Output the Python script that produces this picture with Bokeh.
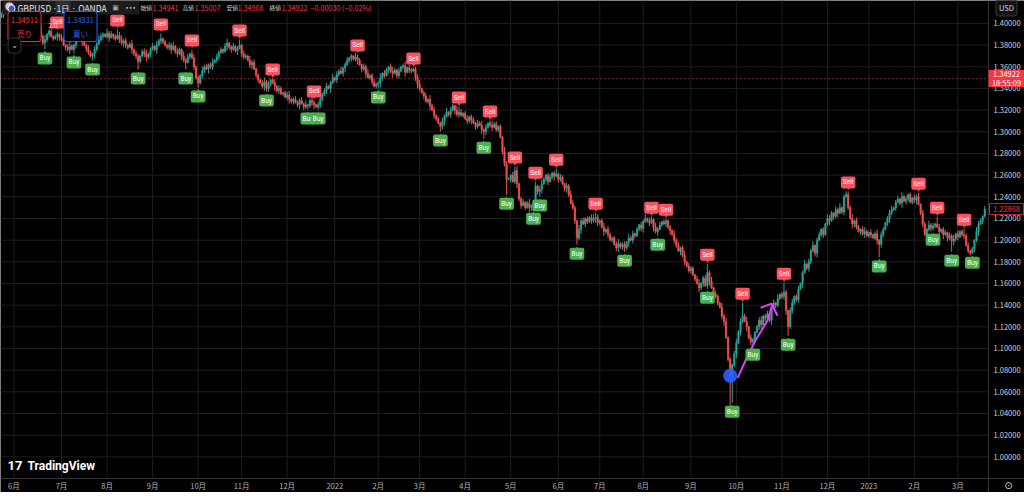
from bokeh.plotting import figure
from bokeh.models import ColumnDataSource, Label
from bokeh.core.properties import value
from bokeh.embed import file_html
from bokeh.resources import INLINE

# daily closes of GBPUSD in pips (1.xxxx * 10000)
closes = [
    14080, 14120, 14150, 14110, 14140, 14170, 14130, 14100, 14140, 14110,
    14090, 14120, 14150, 14100, 14060, 14090, 14030, 14000,
    13960, 13880, 13820, 13850,
    13900, 13930, 13880, 13860, 13880, 13900, 13870, 13850, 13800,
    13780, 13760, 13790, 13760, 13800,
    13840, 13880, 13860, 13830, 13800, 13770,
    13730, 13700, 13720,
    13760, 13810, 13850, 13880, 13900, 13880,
    13910, 13870, 13900, 13880, 13860, 13890,
    13850, 13820, 13840, 13800, 13780, 13810, 13760, 13720, 13700,
    13650,
    13700, 13740, 13720, 13690, 13720,
    13760, 13790, 13760, 13800, 13840, 13860, 13830, 13800,
    13780, 13800, 13760, 13790, 13740, 13720, 13760, 13700, 13660,
    13640,
    13690, 13720, 13680,
    13600, 13500, 13450,
    13520, 13560, 13600, 13580, 13620, 13600, 13640, 13660,
    13690, 13730, 13760, 13740, 13790, 13820,
    13780, 13760, 13790, 13750, 13770, 13800,
    13720, 13690, 13700, 13660, 13620, 13640, 13580, 13520, 13480,
    13450, 13420, 13460, 13400, 13440, 13480, 13450,
    13420, 13380, 13400, 13350, 13360, 13320, 13340, 13300, 13280,
    13300, 13270, 13250, 13290, 13260, 13230, 13250, 13240,
    13290, 13270, 13250, 13230, 13250,
    13300, 13350, 13380, 13420, 13400, 13450, 13500, 13480, 13530, 13560, 13540, 13590, 13620, 13660,
    13680, 13700, 13670, 13690, 13660,
    13620, 13580, 13600, 13540, 13500, 13520, 13460, 13420,
    13440, 13450,
    13500, 13540, 13520, 13570, 13600, 13560,
    13540, 13570, 13520, 13560, 13600, 13610, 13550, 13590, 13570, 13560,
    13580,
    13500, 13440, 13400, 13360, 13330,
    13280, 13300, 13240, 13200, 13150, 13120, 13080,
    13050,
    13100,
    13140, 13180, 13160, 13200, 13240,
    13200, 13160, 13180,
    13150, 13170, 13120, 13100, 13140, 13110, 13080, 13050, 13080, 13060, 13020, 13000,
    13040, 13080, 13060, 13040, 13070, 13020, 13050,
    12950, 12820, 12700, 12560,
    12560, 12600, 12540, 12640, 12520,
    12380, 12320, 12350, 12300, 12340, 12300, 12320,
    12340, 12500, 12450, 12470, 12520, 12560,
    12600, 12540, 12580, 12620, 12590, 12610, 12560, 12580, 12520,
    12480, 12500, 12420, 12340, 12300,
    12180, 12020,
    12100, 12180, 12150, 12200, 12170, 12210, 12180, 12200,
    12210,
    12160, 12180, 12120, 12080, 12100, 12050, 12000, 12020, 11960, 11930,
    11970, 11940, 11960, 11930,
    11980, 12020, 12000, 12060, 12040, 12100, 12140, 12110, 12170, 12200,
    12180, 12160, 12190,
    12120, 12080, 12100,
    12140, 12170, 12150, 12180,
    12120, 12090, 12050, 12000, 11950, 11900, 11930, 11860,
    11800, 11760, 11720, 11740, 11680, 11640, 11600, 11560,
    11600, 11650, 11580, 11700, 11620,
    11560, 11500, 11480, 11420, 11380, 11300,
    11250, 11100, 10900,
    10750,
    10850, 10950, 11050, 11150, 11250, 11300,
    11250, 11200, 11100, 11060, 11080,
    11150, 11200, 11260, 11220, 11300, 11280, 11320, 11260,
    11380, 11420, 11400, 11460, 11500, 11480, 11520,
    11350, 11200,
    11350, 11420, 11480, 11450, 11550, 11600, 11700, 11780, 11740, 11800, 11900, 11950, 11880, 12000, 12050,
    12100, 12050, 12150, 12200, 12180, 12250, 12220,
    12280, 12250, 12300, 12260, 12400, 12420, 12300,
    12200, 12150, 12180, 12120, 12080, 12100,
    12060, 12080, 12040, 12070, 12050, 12020, 12060, 12000,
    11960,
    12050, 12100, 12160, 12200, 12250, 12280, 12300, 12350,
    12380, 12340, 12400, 12360, 12380, 12420, 12350, 12390, 12370, 12400,
    12330,
    12250, 12150, 12050,
    12100, 12140, 12110, 12130, 12150, 12120,
    12080, 12100, 12050, 12070, 12020, 12040, 11990, 12010, 12060, 12030,
    12080, 12050, 12040,
    11950, 11900, 11880, 11920,
    12000, 12080, 12150, 12180, 12220, 12287,
]
first_open = 14060

# wick lengths per bar, one digit per bar, in units of 10 pips
up_wicks = (
    "213241312423121432132412312413213421231241321324"
    "321423121342312413212341231423121324132142312312"
    "142312413221341231241321423121342312413212341232"
    "231412321341231241324123121432132412312413213421"
    "312413212341231423121324132142312312213241312423"
    "121432132412312413213421231241321324321423121342"
    "312413212341231423121324132142312312142312413221"
    "341231241321423121342312413212341232231412321341"
    "231241324123121432132412312413213421312413212341"
    "231423121324132142312312213241312423121432132412"
    "312413213421231241321324321423121342312413212341"
)
down_wicks = (
    "132142312312213241312423121432132412312413213421"
    "231241321324321423121342312413212341231423121324"
    "132142312312142312413221341231241321423121342312"
    "413212341232231412321341231241324123121432132412"
    "312413213421312413212341231423121324132142312312"
    "213241312423121432132412312413213421231241321324"
    "321423121342312413212341231423121324132142312312"
    "142312413221341231241321423121342312413212341232"
    "231412321341231241324123121432132412312413213421"
    "312413212341231423121324132142312312213241312423"
    "121432132412312413213421231241321324321423121342"
)
deep_low_bar = 352
deep_low = 10370

# signal labels: bar index and price (pips) of the label tip
sell_bars = [27, 56, 77, 92, 115, 131, 151, 172, 199, 221, 236, 248, 258, 268, 287, 314, 321, 341, 358, 378, 409, 443, 452, 465]
sell_px = [13926, 13945, 13908, 13760, 13852, 13492, 13289, 13714, 13593, 13233, 13104, 12679, 12540, 12660, 12254, 12217, 12198, 11782, 11422, 11607, 12450, 12438, 12217, 12106]
buy_bars = [21, 35, 44, 66, 89, 95, 128, 148, 153, 182, 212, 233, 244, 257, 260, 278, 301, 317, 341, 353, 363, 380, 424, 450, 459, 469]
buy_px = [13760, 13723, 13658, 13575, 13575, 13409, 13372, 13205, 13205, 13400, 13002, 12937, 12420, 12281, 12402, 11958, 11893, 12041, 11551, 10500, 11025, 11117, 11840, 12087, 11893, 11875]

# time axis
month_bars = [6, 29, 51, 73, 95, 116, 138, 161, 182, 202, 224, 246, 269, 289, 310, 333, 355, 377, 399, 419, 441, 462]
month_names = ["6月", "7月", "8月", "9月", "10月", "11月", "12月", "2022", "2月", "3月", "4月", "5月",
               "6月", "7月", "8月", "9月", "10月", "11月", "12月", "2023", "2月", "3月"]
price_ticks = [1.00, 1.02, 1.04, 1.06, 1.08, 1.10, 1.12, 1.14, 1.16, 1.18, 1.20,
               1.22, 1.24, 1.26, 1.28, 1.30, 1.32, 1.34, 1.36, 1.38, 1.40]

# legend values
ohlc_names = ["始値", "高値", "安値", "終値"]
ohlc_values = ["1.34941", "1.35007", "1.34908", "1.34922"]
change_text = "−0.00030 (−0.02%)"
last_price = 1.34922
prev_close = 1.22868
bid, ask = "1.34911", "1.34931"

# hand drawings on the chart
dot_bar = 352
dot_px = 1.0748
arc_x = [355.6, 360.9, 365.0, 370.0, 372.5]
arc_y = [1.0729, 1.0951, 1.1100, 1.1256, 1.1413]
hook_x = [366.7, 372.0, 374.9]
hook_y = [1.1376, 1.1413, 1.1302]

n = len(closes)
c = [v / 10000 for v in closes]
o = [first_open / 10000] + c[:-1]
hi = [max(o[i], c[i]) + int(up_wicks[i]) * 0.001 for i in range(n)]
lo = [min(o[i], c[i]) - int(down_wicks[i]) * 0.001 for i in range(n)]
for b, v in zip(sell_bars, sell_px):
    hi[b] = max(v / 10000, o[b], c[b])
for b, v in zip(buy_bars, buy_px):
    lo[b] = min(v / 10000, o[b], c[b])
lo[deep_low_bar] = deep_low / 10000

UP, DOWN = "#26a69a", "#ef5350"
src = ColumnDataSource(dict(
    x=list(range(n)), o=o, c=c, hi=hi, lo=lo,
    top=[max(a, b) for a, b in zip(o, c)],
    bot=[min(a, b) for a, b in zip(o, c)],
    color=[UP if cc >= oo else DOWN for oo, cc in zip(o, c)],
))

# page layout: chart pane 988 x 478 px, price scale 36 px, time scale 14 px
W, H = 1024, 492
PANE_W, PANE_H = 988, 478
X0, XR = -0.48, 476.8          # bars shown across the chart pane
Y1, YB = 1.4212, 0.980         # prices at top / bottom of the chart pane
bpp = (XR - X0) / PANE_W       # bars per pixel
ppp = (Y1 - YB) / PANE_H       # price per pixel


def bx(px):
    return X0 + px * bpp


def py(px):
    return Y1 - px * ppp


BG = "#000000"
GRID = "#1e1e1e"
SEP = "#333333"
AXT = "#d1d4dc"
RED = "#f23645"
JP = "Noto Sans CJK JP"

p = figure(width=W, height=H, x_range=(X0, bx(W)), y_range=(py(H), Y1),
           x_axis_type=None, y_axis_type=None, toolbar_location=None, output_backend="svg",
           min_border=0)
p.background_fill_color = BG
p.border_fill_color = BG
p.outline_line_color = None


def ptext(x, y, text, **kw):
    # x, y in px from the top-left corner of the page
    opts = dict(text_font=value(JP), text_font_size="7px", text_color=AXT, text_baseline="middle")
    opts.update(kw)
    p.text(x=[bx(x)], y=[py(y)], text=[text], **opts)


# grid of the chart pane
p.segment(x0=X0, x1=XR, y0=price_ticks, y1=price_ticks, line_color=GRID, line_width=1)
p.segment(x0=month_bars, x1=month_bars, y0=YB, y1=Y1, line_color=GRID, line_width=1)

# last price line
p.segment(x0=X0, x1=XR, y0=last_price, y1=last_price, line_color=RED,
          line_dash="1 3", line_width=1)

# candles
p.segment(x0="x", y0="lo", x1="x", y1="hi", color="color", line_width=1, source=src)
p.vbar(x="x", width=0.72, top="top", bottom="bot", fill_color="color",
       line_color="color", line_width=0.5, source=src)

# drawings
p.multi_line(xs=[arc_x, hook_x], ys=[arc_y, hook_y], line_color="#e040fb", line_width=2)
p.scatter(x=[dot_bar], y=[dot_px], size=14, fill_color="#2962ff", fill_alpha=0.9, line_color=None)

# Buy / Sell labels
SELL, BUY = "#f7525f", "#4caf50"
s_src = ColumnDataSource(dict(x=sell_bars, y=[v / 10000 for v in sell_px], t=["Sell"] * len(sell_bars)))
b_src = ColumnDataSource(dict(x=buy_bars, y=[v / 10000 for v in buy_px], t=["Buy"] * len(buy_bars)))
p.text(x="x", y="y", text=value("▼"), source=s_src, text_color=SELL, text_font_size="6px",
       text_align="center", text_baseline="middle", y_offset=-3)
p.text(x="x", y="y", text=value("▲"), source=b_src, text_color=BUY, text_font_size="6px",
       text_align="center", text_baseline="middle", y_offset=3)
p.text(x="x", y="y", text="t", source=s_src, text_color="white", text_font=value("Roboto"),
       text_font_size="6.5px", text_align="center", text_baseline="middle", y_offset=-9,
       background_fill_color=SELL, padding=2, border_radius=2)
p.text(x="x", y="y", text="t", source=b_src, text_color="white", text_font=value("Roboto"),
       text_font_size="6.5px", text_align="center", text_baseline="middle", y_offset=9,
       background_fill_color=BUY, padding=2, border_radius=2)

# price scale and time scale
p.segment(x0=XR, x1=XR, y0=py(H), y1=Y1, line_color=SEP, line_width=1)
p.segment(x0=X0, x1=bx(W), y0=YB, y1=YB, line_color=SEP, line_width=1)
p.text(x=bx(993), y=price_ticks, text=[f"{t:.5f}" for t in price_ticks], text_color=AXT,
       text_font=value(JP), text_font_size="7.5px", text_baseline="middle")
p.text(x=month_bars, y=py(485), text=month_names, text_color="#b2b5be",
       text_font=value(JP), text_font_size="7.5px", text_align="center", text_baseline="middle")

# last price tag and previous close tag on the price scale
p.quad(left=XR, right=bx(W), top=last_price + 8.5 * ppp, bottom=last_price - 8.5 * ppp,
       fill_color=RED, line_color=None)
p.text(x=bx(1006), y=[last_price, last_price], text=["1.34922", "18:55:09"], y_offset=[-4, 4],
       text_color="white", text_font=value(JP), text_font_size="7.5px",
       text_align="center", text_baseline="middle")
p.quad(left=bx(989), right=bx(1023), top=prev_close + 5.5 * ppp, bottom=prev_close - 5.5 * ppp,
       fill_color=BG, line_color="#c62828", line_width=1)
p.text(x=bx(1006), y=prev_close, text=["1.22868"], text_color=RED, text_font=value(JP),
       text_font_size="7.5px", text_align="center", text_baseline="middle")
ptext(1006, 7, "USD", text_font_size="7.5px", text_align="center", background_fill_color="#121212",
      border_line_color="#3a3a3a", padding=3, border_radius=3)
ptext(1008, 485, "⊙", text_font=value("DejaVu Sans"), text_font_size="10px", text_align="center")

# symbol header
p.quad(left=bx(2), right=bx(139), top=py(0), bottom=py(14), fill_color="#1b1b1b", line_color=None)
p.quad(left=bx(55), right=bx(70), top=py(0.5), bottom=py(13.5), fill_color="#2e2e2e", line_color=None)
p.scatter(x=[bx(9), bx(11)], y=[py(6), py(8)], size=[9, 7], fill_color=["#c9ced8", "#3d5bb0"],
          line_color=["#b22234", "#ffffff"], line_width=1)
ptext(17, 7, "GBPUSD", text_font_size="8.5px", text_color="#e6e6e6")
ptext(52, 7, "·", text_font_size="8.5px", text_color="#e6e6e6")
ptext(62.5, 7, "1日", text_font_size="8.5px", text_color="#e6e6e6", text_align="center")
ptext(71, 7, "· OANDA", text_font_size="8.5px", text_color="#e6e6e6")
ptext(115, 7, "▣", text_font=value("DejaVu Sans"), text_font_size="7px", text_color="#aaaaaa",
      text_align="center")
ptext(130, 7, "•••", text_font=value("DejaVu Sans"), text_font_size="6px", text_color="#cccccc",
      text_align="center")

# OHLC legend
for name, val, xn, xv in zip(ohlc_names, ohlc_values, [140, 182, 226, 269], [152, 194, 237, 281]):
    ptext(xn, 7, name, text_font_size="5.8px", text_color="#d0d0d0")
    ptext(xv, 7, val, text_font_size="7.2px", text_color=RED)
ptext(310, 7, change_text, text_font_size="7.2px", text_color=RED)


def lab(x, y, text, **kw):
    # x, y measured in px from the top-left corner of the page
    opts = dict(x_units="screen", y_units="screen", text_font=JP, text_font_size="7px",
                text_color=AXT, text_baseline="middle")
    opts.update(kw)
    p.add_layout(Label(x=x, y=H - y, text=text, **opts))


lab(48, 25, "2.0", text_font_size="6.5px", text_color="#dddddd")
lab(24, 26, bid + "\n売り", text_align="center", text_color=RED, text_font_size="7.5px",
    background_fill_color="#000000", border_line_color=RED, padding=3, border_radius=3)
lab(80, 26, ask + "\n買い", text_align="center", text_color="#2962ff", text_font_size="7.5px",
    background_fill_color="#000000", border_line_color="#2962ff", padding=3, border_radius=3)
lab(14, 45, "⌄", text_align="center", text_font="DejaVu Sans", text_font_size="8px",
    background_fill_color="#000000", border_line_color="#333333", padding=3, border_radius=3)

# watermark
lab(7, 465, "17", text_font="Roboto", text_font_style="bold", text_font_size="13px",
    text_color="#ffffff")
lab(27, 465, "TradingView", text_font="Roboto", text_font_size="12px",
    text_font_style="bold", text_color="#ffffff")

open("out.html", "w").write(file_html(p, INLINE))
